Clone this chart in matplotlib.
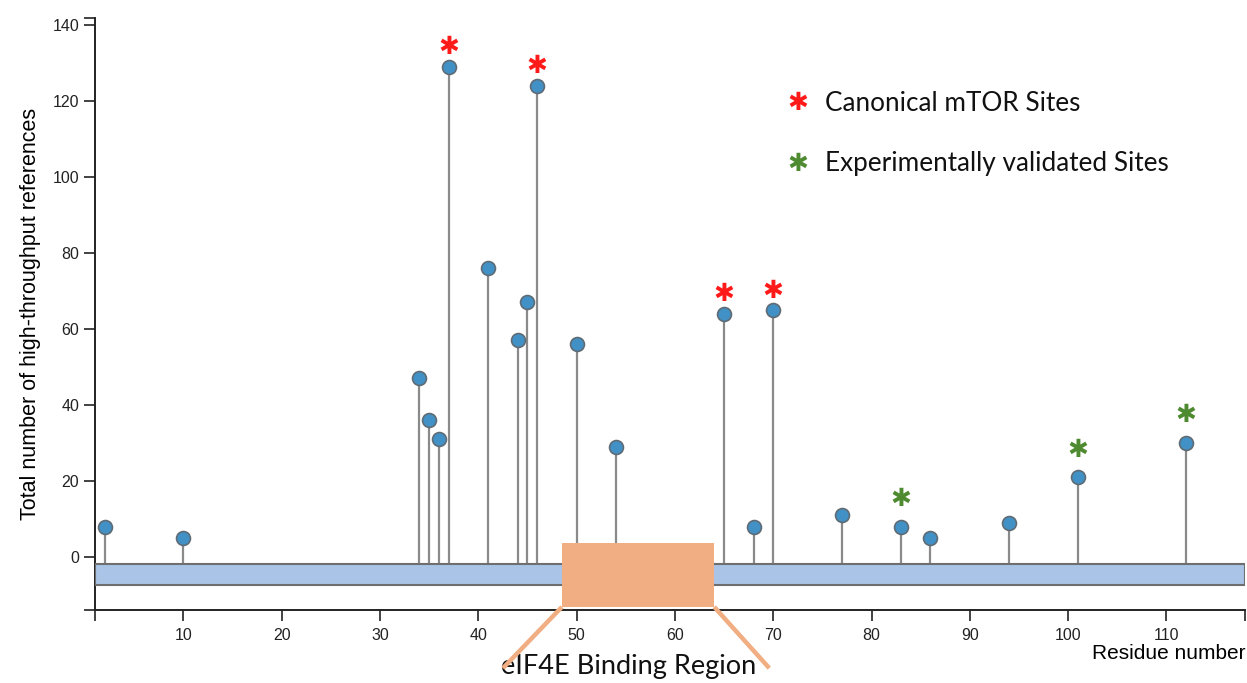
import matplotlib
matplotlib.use("Agg")
import matplotlib.pyplot as plt
from matplotlib.patches import Rectangle

# ── data ─────────────────────────────────────────────────────────────────────
residues = [2, 10, 34, 35, 36, 37, 41, 44, 45, 46, 50, 54, 65, 68, 70, 77, 83, 86, 94, 101, 112]
refs     = [8, 5, 47, 36, 31, 129, 76, 57, 67, 124, 56, 29, 64, 8, 65, 11, 8, 5, 9, 21, 30]

canonical_sites = [37, 46, 65, 70]      # red asterisks
validated_sites = [83, 101, 112]        # green asterisks

protein_len = 118
binding_region = (48.5, 64)
x_ticks = [10, 20, 30, 40, 50, 60, 70, 80, 90, 100, 110]
y_ticks = [0, 20, 40, 60, 80, 100, 120, 140]

# ── style ────────────────────────────────────────────────────────────────────
SANS = ["Liberation Sans", "DejaVu Sans"]
HUMAN = ["Lato", "DejaVu Sans"]
DOT = "#4191c6"
STEM = "#8a8a8a"
BAR = "#a9c4e6"
ORANGE = "#f0ae82"
RED = "#ff1a1a"
GREEN = "#4e8a30"

fig = plt.figure(figsize=(12.47, 6.83), dpi=100)
ax = fig.add_axes([0.0762, 0.1069, 0.9222, 0.8667])
ymin, ymax = -13.9, 141.8
ax.set_xlim(1, protein_len)
ax.set_ylim(ymin, ymax)

bar_lo, bar_hi = -7.4, -1.9

# stems + heads
ax.vlines(residues, bar_hi, refs, color=STEM, lw=1.6, zorder=2)
ax.plot(residues, refs, "o", ms=10, mfc=DOT, mec="#5f6b75", mew=1.2,
        zorder=5, clip_on=False)

# protein backbone
ax.add_patch(Rectangle((1, bar_lo), protein_len - 1, bar_hi - bar_lo,
                       facecolor=BAR, edgecolor="#6e6e6e", lw=1.5, zorder=3))

# eIF4E binding region box + callout lines
r0, r1 = binding_region
ax.add_patch(Rectangle((r0, -13.1), r1 - r0, 3.8 + 13.1,
                       facecolor=ORANGE, edgecolor="none", zorder=4, clip_on=False))
ax.plot([r0, r0 - 6.0], [-13.1, -29.2], color=ORANGE, lw=3.2,
        solid_capstyle="butt", clip_on=False, zorder=4)
ax.plot([r1, r1 + 5.6], [-13.1, -29.2], color=ORANGE, lw=3.2,
        solid_capstyle="butt", clip_on=False, zorder=4)
ax.text((r0 + r1) / 2 - 1.0, -25.6, "eIF4E Binding Region", family=HUMAN,
        fontsize=19.5, ha="center", va="top", color="#111111", clip_on=False)

# site asterisks
val = dict(zip(residues, refs))
for r in canonical_sites:
    ax.annotate("✱", (r, val[r]), xytext=(0, 14), textcoords="offset points",
                ha="center", va="center", color=RED, fontsize=18,
                family="DejaVu Sans", zorder=6, annotation_clip=False)
for r in validated_sites:
    ax.annotate("✱", (r, val[r]), xytext=(0, 20), textcoords="offset points",
                ha="center", va="center", color=GREEN, fontsize=18,
                family="DejaVu Sans", zorder=6, annotation_clip=False)

# legend (drawn as text, like the original)
ax.text(0.611, 0.856, "✱", transform=ax.transAxes, color=RED, fontsize=18,
        family="DejaVu Sans", ha="center", va="center")
ax.text(0.635, 0.856, "Canonical mTOR Sites", transform=ax.transAxes,
        family=HUMAN, fontsize=18.8, ha="left", va="center", color="#111111")
ax.text(0.611, 0.754, "✱", transform=ax.transAxes, color=GREEN, fontsize=18,
        family="DejaVu Sans", ha="center", va="center")
ax.text(0.635, 0.754, "Experimentally validated Sites", transform=ax.transAxes,
        family=HUMAN, fontsize=18.8, ha="left", va="center", color="#111111")

# axes
for s in ["top", "right"]:
    ax.spines[s].set_visible(False)
for s in ["left", "bottom"]:
    ax.spines[s].set_color("#222222")
    ax.spines[s].set_linewidth(1.4)

ax.set_xticks([1] + x_ticks + [protein_len])
ax.set_xticklabels([""] + [str(t) for t in x_ticks] + [""])
ax.set_yticks([ymin] + y_ticks + [ymax])
ax.set_yticklabels([""] + [str(t) for t in y_ticks] + [""])
ax.tick_params(axis="both", direction="out", length=8, width=1.2,
               color="#222222", labelsize=11.5, labelcolor="#222222")
ax.tick_params(axis="x", pad=5)
for lab in ax.get_xticklabels() + ax.get_yticklabels():
    lab.set_family(SANS)

ax.set_ylabel("Total number of high-throughput references", family=SANS,
              fontsize=15.5, labelpad=8)
ax.text(1.0, -0.058, "Residue number", transform=ax.transAxes, family=SANS,
        fontsize=15, ha="right", va="top")

fig.savefig("out.png", dpi=100)
